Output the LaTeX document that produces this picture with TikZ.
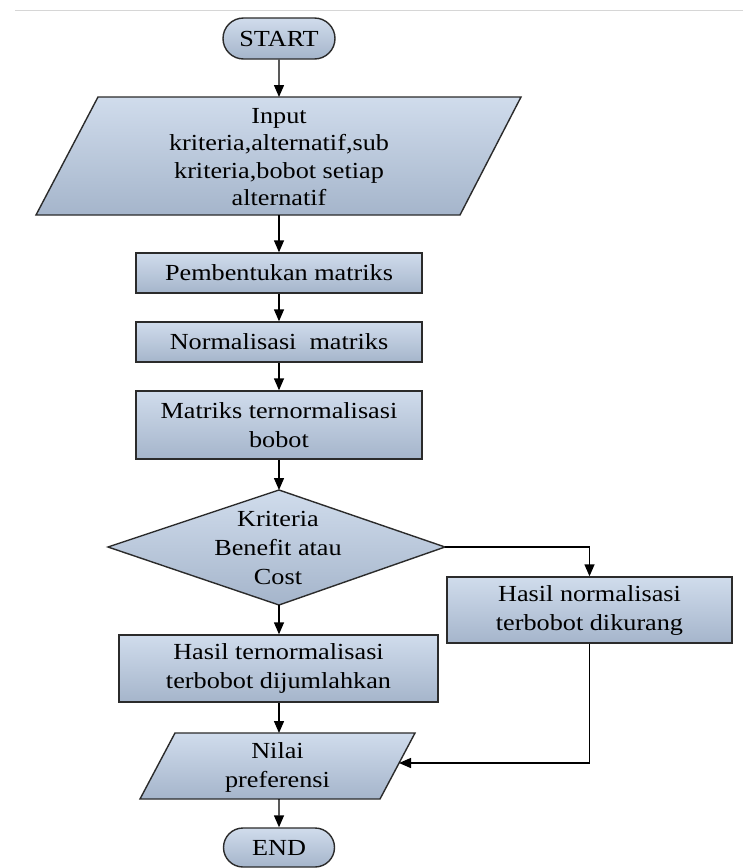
\documentclass[tikz,border=0pt]{standalone}
\usepackage{fontspec}
\setmainfont{Liberation Serif}[FakeStretch=1.14]
\usetikzlibrary{arrows.meta,shapes.misc}
\definecolor{lite}{HTML}{D0DCEC}
\definecolor{darkf}{HTML}{A5B5CB}
\definecolor{edgec}{HTML}{2B2B2B}
\begin{document}
\begin{tikzpicture}[x=1pt,y=-1pt,
  shapefill/.style={top color=lite,bottom color=darkf,draw=edgec,line width=1.4pt},
  procbox/.style={shapefill,rectangle,inner sep=0pt,align=center,font=\fontsize{23}{29}\selectfont},
  termbox/.style={shapefill,rounded rectangle,inner sep=0pt,font=\fontsize{23}{29}\selectfont},
  txt/.style={inner sep=0pt,align=center,font=\fontsize{23}{29}\selectfont},
  flow/.style={-{Triangle[length=12pt,width=10pt]},line width=1.4pt,draw=black}]
\useasboundingbox[fill=white] (0,0) rectangle (743,868);
\draw[line width=1pt,color=black!16] (15,10) -- (743,10);

% START
\node[termbox,minimum width=112pt,minimum height=41pt] (start) at (279,38.5) {START};

% Input parallelogram
\draw[shapefill] (98,97) -- (521,97) -- (460,215) -- (36,215) -- cycle;
\coordinate (inT) at (279,97);
\coordinate (inB) at (279,215);
\node[txt,font=\fontsize{23}{27.3}\selectfont] (input) at (279,157) {Input\\kriteria,alternatif,sub\\kriteria,bobot setiap\\alternatif};

% process boxes
\node[procbox,minimum width=286pt,minimum height=40pt] (pemb) at (279,273) {Pembentukan matriks};
\node[procbox,minimum width=286pt,minimum height=40pt] (norm) at (279,342) {Normalisasi~ matriks};
\node[procbox,minimum width=286pt,minimum height=68pt] (matr) at (279,425) {Matriks ternormalisasi\\bobot};

% decision
\draw[shapefill] (279,490) -- (445,547) -- (279,605) -- (108,547) -- cycle;
\coordinate (dT) at (279,490);
\coordinate (dR) at (445,547);
\coordinate (dB) at (279,605);
\node[txt] (dec) at (278,548) {Kriteria\\Benefit atau\\Cost};

\node[procbox,minimum width=285pt,minimum height=66pt] (hasilN) at (589.5,610) {Hasil normalisasi\\terbobot dikurang};
\node[procbox,minimum width=319pt,minimum height=67pt] (hasilT) at (278.5,668.5) {Hasil ternormalisasi\\terbobot dijumlahkan};

% output parallelogram
\draw[shapefill] (175,733) -- (415,733) -- (380,799) -- (140,799) -- cycle;
\coordinate (nT) at (279,733);
\coordinate (nB) at (279,799);
\coordinate (nR) at (399,763);
\node[txt] (nilai) at (277.5,767) {Nilai\\preferensi};

% END
\node[termbox,minimum width=111pt,minimum height=39pt] (end) at (279,847.5) {END};

% connectors
\draw[flow] (start) -- (inT);
\draw[flow] (inB) -- (pemb);
\draw[flow] (pemb) -- (norm);
\draw[flow] (norm) -- (matr);
\draw[flow] (matr) -- (dT);
\draw[flow] (dR) -| (hasilN);
\draw[flow] (dB) -- (dB |- hasilT.north);
\draw[flow] (hasilT.south -| nT) -- (nT);
\draw[flow] (hasilN.south) |- (nR);
\draw[flow] (nB) -- (end);
\end{tikzpicture}
\end{document}
